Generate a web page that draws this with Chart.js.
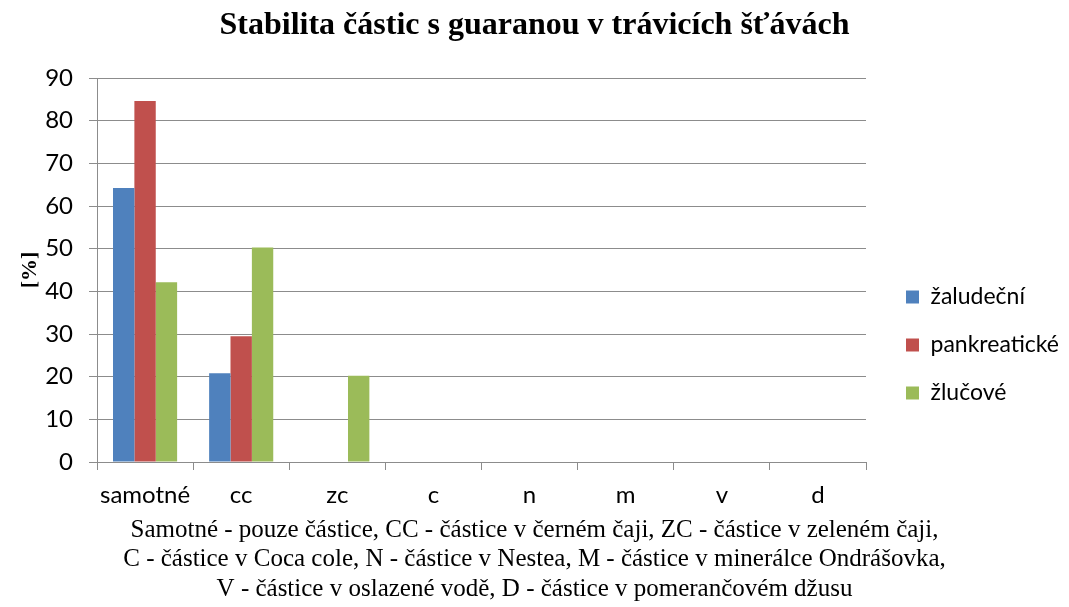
<!DOCTYPE html>
<html>
<head>
<meta charset="utf-8">
<script src="https://cdn.jsdelivr.net/npm/chart.js@4"></script>
<style>
  html, body { margin: 0; padding: 0; background: #fff; }
  #wrap { width: 1069px; height: 607px; }
</style>
</head>
<body>
<div id="wrap"><canvas id="guaranaChart"></canvas></div>
<script>
var categories = ["samotné", "cc", "zc", "c", "n", "m", "v", "d"];
var zaludecni = [64.2, 20.8, 0, 0, 0, 0, 0, 0];
var pankreaticke = [84.6, 29.5, 0, 0, 0, 0, 0, 0];
var zlucove = [42.1, 50.3, 20.2, 0, 0, 0, 0, 0];
var yTicks = [0, 10, 20, 30, 40, 50, 60, 70, 80, 90];
var captionLines = [
    "Samotné - pouze částice, CC - částice v černém čaji, ZC - částice v zeleném čaji,",
    "C - částice v Coca cole, N - částice v Nestea, M - částice v minerálce Ondrášovka,",
    "V - částice v oslazené vodě, D - částice v pomerančovém džusu"
];

var gridGrey = '#8c8c8c';
var sans = 'Lato';
var serif = '"Liberation Serif", "Times New Roman", serif';

function drawChart() {
    var ctx = document.getElementById('guaranaChart').getContext('2d');
    new Chart(ctx, {
        type: 'bar',
        data: {
            labels: categories,
            datasets: [{
                label: 'žaludeční',
                data: zaludecni,
                backgroundColor: '#4F81BD'
            }, {
                label: 'pankreatické',
                data: pankreaticke,
                backgroundColor: '#C0504D'
            }, {
                label: 'žlučové',
                data: zlucove,
                backgroundColor: '#9BBB59'
            }]
        },
        options: {
            responsive: true,
            maintainAspectRatio: false,
            animation: false,
            datasets: {
                bar: { categoryPercentage: 0.667, barPercentage: 1.0 }
            },
            layout: { padding: 0 },
            plugins: {
                title: {
                    display: true,
                    text: 'Stabilita částic s guaranou v trávicích šťávách',
                    color: '#000',
                    font: { family: serif, size: 32, weight: 'bold', lineHeight: 1.2 },
                    padding: { top: 7, bottom: 32.6 }
                },
                subtitle: {
                    display: true,
                    position: 'bottom',
                    text: captionLines,
                    color: '#000',
                    font: { family: serif, size: 25, lineHeight: 1.18 },
                    padding: { top: 5, bottom: 3 }
                },
                legend: {
                    position: 'right',
                    align: 'center',
                    maxWidth: 300,
                    title: {
                        display: true,
                        text: ' ',
                        font: { size: 1, lineHeight: 1 },
                        padding: { top: 82, bottom: 0 }
                    },
                    labels: {
                        color: '#000',
                        font: { family: sans, size: 23 },
                        boxWidth: 13,
                        boxHeight: 13,
                        padding: 25
                    }
                },
                tooltip: { enabled: false }
            },
            scales: {
                x: {
                    afterFit: function (scale) { scale.height = 48.5; },
                    grid: {
                        display: true,
                        drawOnChartArea: false,
                        drawTicks: true,
                        tickLength: 8,
                        offset: true,
                        color: gridGrey
                    },
                    border: { color: gridGrey },
                    ticks: {
                        color: '#000',
                        font: { family: sans, size: 24 },
                        padding: 11,
                        maxRotation: 0
                    }
                },
                y: {
                    min: 0,
                    max: 90,
                    afterBuildTicks: function (scale) {
                        scale.ticks = yTicks.map(function (v) { return { value: v }; });
                    },
                    afterFit: function (scale) { scale.width = 97; },
                    grid: {
                        color: gridGrey,
                        tickLength: 8
                    },
                    border: { color: gridGrey },
                    ticks: {
                        color: '#000',
                        font: { family: sans, size: 24 },
                        padding: 16
                    },
                    title: {
                        display: true,
                        text: '[%]',
                        color: '#000',
                        font: { family: serif, size: 22, weight: 'bold', lineHeight: 1.2 },
                        padding: { top: 17, bottom: 0 }
                    }
                },
                gap: {
                    type: 'linear',
                    position: 'right',
                    display: true,
                    grid: { display: false },
                    border: { display: false },
                    ticks: { display: false },
                    afterFit: function (scale) { scale.width = 15; }
                }
            }
        }
    });
}

Promise.all([
    document.fonts.load('23px Lato'),
    document.fonts.load('24px Lato'),
    document.fonts.load('bold 32px "Liberation Serif"'),
    document.fonts.load('25px "Liberation Serif"')
]).then(drawChart, drawChart);
</script>
</body>
</html>
